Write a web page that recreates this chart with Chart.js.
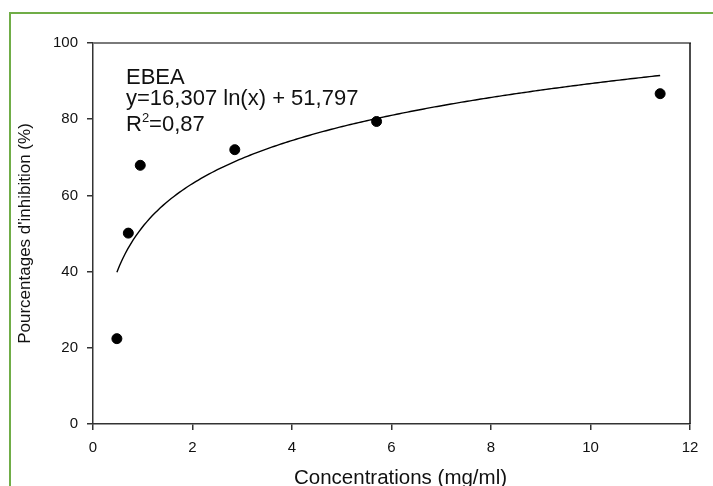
<!DOCTYPE html>
<html>
<head>
<meta charset="utf-8">
<script src="https://cdn.jsdelivr.net/npm/chart.js@4/dist/chart.umd.min.js"></script>
<style>
  html, body { margin: 0; padding: 0; background: #fff; overflow: hidden; }
  #wrap { position: relative; width: 713px; height: 486px; overflow: hidden; }
  #frame { position: absolute; left: 9px; top: 12px; width: 760px; height: 540px;
           border: 2px solid #70ad47; box-sizing: border-box; }
  #c { position: absolute; left: 0; top: 0; }
</style>
</head>
<body>
<div id="wrap">
  <div id="frame"></div>
  <canvas id="c" width="713" height="486"></canvas>
</div>
<script>
// Measured inhibition of the EBEA extract at each concentration
const concentrations = [0.48, 0.71, 0.95, 2.85, 5.70, 11.40];   // mg/ml
const inhibition     = [22.4, 50.1, 67.9, 72.0, 79.4, 86.7];    // %

// Axis ticks
const xTickValues = [0, 2, 4, 6, 8, 10, 12];
const yTickValues = [0, 20, 40, 60, 80, 100];

// Axis titles
const xTitle = 'Concentrations (mg/ml)';
const yTitle = "Pourcentages d'inhibition (%)";

// Logarithmic regression y = a ln(x) + b, as printed on the chart
const seriesName   = 'EBEA';
const fitSlope     = 16.307;
const fitIntercept = 51.797;
const fitR2        = 0.87;
const fitRange     = [0.48, 11.4];

const fmt = (v, d) => v.toFixed(d).replace('.', ',');

// Trend-line samples taken from the printed equation
const fitPoints = [];
const steps = 200;
for (let i = 0; i <= steps; i++) {
  const x = fitRange[0] + (fitRange[1] - fitRange[0]) * i / steps;
  fitPoints.push({ x, y: fitSlope * Math.log(x) + fitIntercept });
}

const FONT = '"Liberation Sans", Arial, Helvetica, sans-serif';
const INK = '#111';

// Top/right frame lines, x-axis title and the equation box
const framePlugin = {
  id: 'frameAndEquation',
  afterDraw(chart) {
    const { ctx, chartArea: a } = chart;
    ctx.save();
    ctx.lineWidth = 2;
    ctx.strokeStyle = '#7a7a7a';
    ctx.beginPath();
    ctx.moveTo(a.left, a.top);
    ctx.lineTo(a.right + 1, a.top);
    ctx.stroke();
    ctx.lineWidth = 1.5;
    ctx.strokeStyle = INK;
    ctx.beginPath();
    ctx.moveTo(a.right, a.top);
    ctx.lineTo(a.right, a.bottom);
    ctx.stroke();

    ctx.fillStyle = INK;
    ctx.textBaseline = 'alphabetic';

    // x-axis title, sitting slightly right of the plot centre
    ctx.textAlign = 'center';
    ctx.font = '20.5px ' + FONT;
    ctx.fillText(xTitle, (a.left + a.right) / 2 + 9, a.bottom + 60);

    // equation block
    const x0 = a.left + 33;
    ctx.textAlign = 'left';
    ctx.font = '22px ' + FONT;
    ctx.fillText(seriesName, x0, a.top + 41);
    ctx.fillText('y=' + fmt(fitSlope, 3) + ' ln(x) + ' + fmt(fitIntercept, 3), x0, a.top + 62);
    const baseR = a.top + 88;
    ctx.fillText('R', x0, baseR);
    const wR = ctx.measureText('R').width;
    ctx.font = '13px ' + FONT;
    ctx.fillText('2', x0 + wR, baseR - 9);
    const w2 = ctx.measureText('2').width;
    ctx.font = '22px ' + FONT;
    ctx.fillText('=' + fmt(fitR2, 2), x0 + wR + w2, baseR);
    ctx.restore();
  }
};

new Chart(document.getElementById('c'), {
  type: 'scatter',
  data: {
    datasets: [
      {
        label: seriesName,
        data: concentrations.map((x, i) => ({ x, y: inhibition[i] })),
        backgroundColor: '#000',
        borderColor: '#000',
        pointRadius: 5,
        pointHoverRadius: 5,
        showLine: false,
        order: 1
      },
      {
        label: 'fit',
        data: fitPoints,
        showLine: true,
        borderColor: '#000',
        borderWidth: 1.4,
        pointRadius: 0,
        tension: 0,
        fill: false,
        order: 2
      }
    ]
  },
  options: {
    responsive: false,
    animation: false,
    events: [],
    layout: { padding: { left: 0, right: 23, top: 43, bottom: 0 } },
    plugins: { legend: { display: false }, tooltip: { enabled: false } },
    scales: {
      x: {
        type: 'linear',
        min: 0, max: 12,
        afterBuildTicks: s => { s.ticks = xTickValues.map(v => ({ value: v })); },
        afterFit: s => { s.height = 62; },
        grid: { display: true, drawOnChartArea: false, drawTicks: true, tickLength: 6, tickColor: '#333', lineWidth: 1.5 },
        border: { display: true, color: '#333', width: 1.5 },
        ticks: { color: INK, font: { family: FONT, size: 15 }, padding: 9, maxRotation: 0, autoSkip: false },
        title: { display: false }
      },
      y: {
        type: 'linear',
        min: 0, max: 100,
        afterBuildTicks: s => { s.ticks = yTickValues.map(v => ({ value: v })); },
        afterFit: s => { s.width = 93; },
        grid: { display: true, drawOnChartArea: false, drawTicks: true, tickLength: 6, tickColor: '#333', lineWidth: 1.5 },
        border: { display: true, color: '#333', width: 1.5 },
        ticks: { color: INK, font: { family: FONT, size: 15 }, padding: 9, autoSkip: false },
        title: { display: true, text: yTitle, color: INK,
                 font: { family: FONT, size: 17 }, padding: { top: 15, bottom: 0 } }
      }
    }
  },
  plugins: [framePlugin]
});
</script>
</body>
</html>
